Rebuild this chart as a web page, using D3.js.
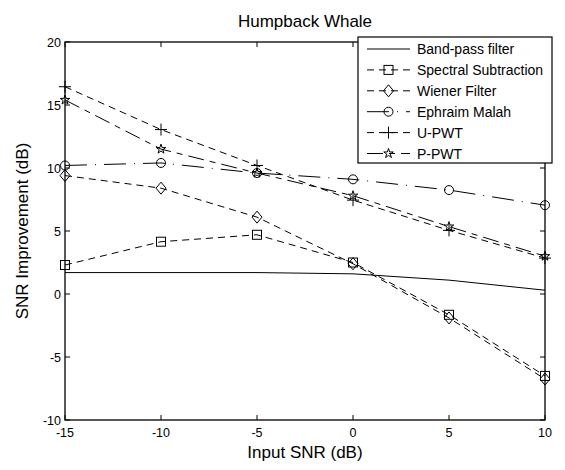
<!DOCTYPE html>
<html><head><meta charset="utf-8">
<script src="https://cdn.jsdelivr.net/npm/d3@7"></script>
<style>body{margin:0;background:#fff}text{font-family:"Liberation Sans",Arial,sans-serif;fill:#000}</style>
</head><body>
<svg id="c" width="565" height="470"></svg>
<script>
const inputSNR = [-15, -10, -5, 0, 5, 10];
const bandPass = [1.7, 1.7, 1.7, 1.6, 1.1, 0.3];
const spectralSub = [2.3, 4.15, 4.7, 2.5, -1.65, -6.5];
const wiener = [9.4, 8.4, 6.1, 2.4, -1.9, -6.75];
const ephraimMalah = [10.2, 10.4, 9.6, 9.1, 8.25, 7.05];
const uPWT = [16.45, 13.05, 10.2, 7.45, 5.05, 2.85];
const pPWT = [15.4, 11.5, 9.6, 7.8, 5.35, 3.0];
const xTicks = [-15, -10, -5, 0, 5, 10];
const yTicks = [-10, -5, 0, 5, 10, 15, 20];
const seriesNames = ["Band-pass filter", "Spectral Subtraction", "Wiener Filter", "Ephraim Malah", "U-PWT", "P-PWT"];

const series = [
  {name: seriesNames[0], values: bandPass, dash: null, marker: null},
  {name: seriesNames[1], values: spectralSub, dash: "7,5", marker: "square"},
  {name: seriesNames[2], values: wiener, dash: "7,5", marker: "diamond"},
  {name: seriesNames[3], values: ephraimMalah, dash: "22,8,1,8", marker: "circle"},
  {name: seriesNames[4], values: uPWT, dash: "7,5", marker: "plus"},
  {name: seriesNames[5], values: pPWT, dash: "16,6,6,6", marker: "star"}
];

const svg = d3.select("#c");
const L = 65, R = 545, T = 42, B = 420;
const x = d3.scaleLinear().domain([-15, 10]).range([L, R]);
const y = d3.scaleLinear().domain([-10, 20]).range([B, T]);

const g = svg.append("g");
const tl = 5;
xTicks.forEach(t => {
  g.append("line").attr("x1", x(t)).attr("x2", x(t)).attr("y1", B).attr("y2", B - tl).attr("stroke", "#000");
  g.append("line").attr("x1", x(t)).attr("x2", x(t)).attr("y1", T).attr("y2", T + tl).attr("stroke", "#000");
  g.append("text").attr("x", x(t)).attr("y", 437).attr("text-anchor", "middle").attr("font-size", 12.5).text(t);
});
yTicks.forEach(t => {
  g.append("line").attr("x1", L).attr("x2", L + tl).attr("y1", y(t)).attr("y2", y(t)).attr("stroke", "#000");
  g.append("line").attr("x1", R).attr("x2", R - tl).attr("y1", y(t)).attr("y2", y(t)).attr("stroke", "#000");
  g.append("text").attr("x", L - 4).attr("y", y(t) + 4.5).attr("text-anchor", "end").attr("font-size", 12.5).text(t);
});
svg.append("rect").attr("x", L).attr("y", T).attr("width", R - L).attr("height", B - T)
  .attr("fill", "none").attr("stroke", "#000").attr("stroke-width", 1.3);

function drawMarker(sel, type, cx, cy) {
  const s = 4.5;
  let el;
  if (type === "square") el = sel.append("rect").attr("x", cx - s).attr("y", cy - s).attr("width", 2 * s).attr("height", 2 * s);
  else if (type === "circle") el = sel.append("circle").attr("cx", cx).attr("cy", cy).attr("r", s);
  else if (type === "diamond") el = sel.append("path").attr("d", `M${cx},${cy - 6}L${cx + 5},${cy}L${cx},${cy + 6}L${cx - 5},${cy}Z`);
  else if (type === "plus") el = sel.append("path").attr("d", `M${cx - 6},${cy}H${cx + 6}M${cx},${cy - 6}V${cy + 6}`);
  else if (type === "star") el = sel.append("path").attr("d", d3.symbol(d3.symbolStar, 28)()).attr("transform", `translate(${cx},${cy})`);
  if (el) el.attr("fill", "none").attr("stroke", "#000").attr("stroke-width", 1);
}

const line = d3.line().x((d, i) => x(inputSNR[i])).y(d => y(d));
series.forEach(s => {
  svg.append("path").attr("d", line(s.values)).attr("fill", "none").attr("stroke", "#000")
    .attr("stroke-width", 1).attr("stroke-dasharray", s.dash);
  if (s.marker) s.values.forEach((v, i) => drawMarker(svg, s.marker, x(inputSNR[i]), y(v)));
});

const lg = svg.append("g");
lg.append("rect").attr("x", 358).attr("y", 37).attr("width", 194).attr("height", 126)
  .attr("fill", "#fff").attr("stroke", "#000").attr("stroke-width", 1.2);
series.forEach((s, i) => {
  const yy = 49 + i * 20.9;
  lg.append("line").attr("x1", 367).attr("x2", 410).attr("y1", yy).attr("y2", yy)
    .attr("stroke", "#000").attr("stroke-width", 1).attr("stroke-dasharray", s.dash);
  if (s.marker) drawMarker(lg, s.marker, 388.5, yy);
  lg.append("text").attr("x", 417).attr("y", yy + 5).attr("font-size", 14).text(s.name);
});

svg.append("text").attr("x", 305).attr("y", 27).attr("text-anchor", "middle").attr("font-size", 17).text("Humpback Whale");
svg.append("text").attr("x", 305).attr("y", 458).attr("text-anchor", "middle").attr("font-size", 17).text("Input SNR (dB)");
svg.append("text").attr("transform", "translate(28,231) rotate(-90)").attr("text-anchor", "middle").attr("font-size", 17).text("SNR Improvement (dB)");
</script>
</body></html>
